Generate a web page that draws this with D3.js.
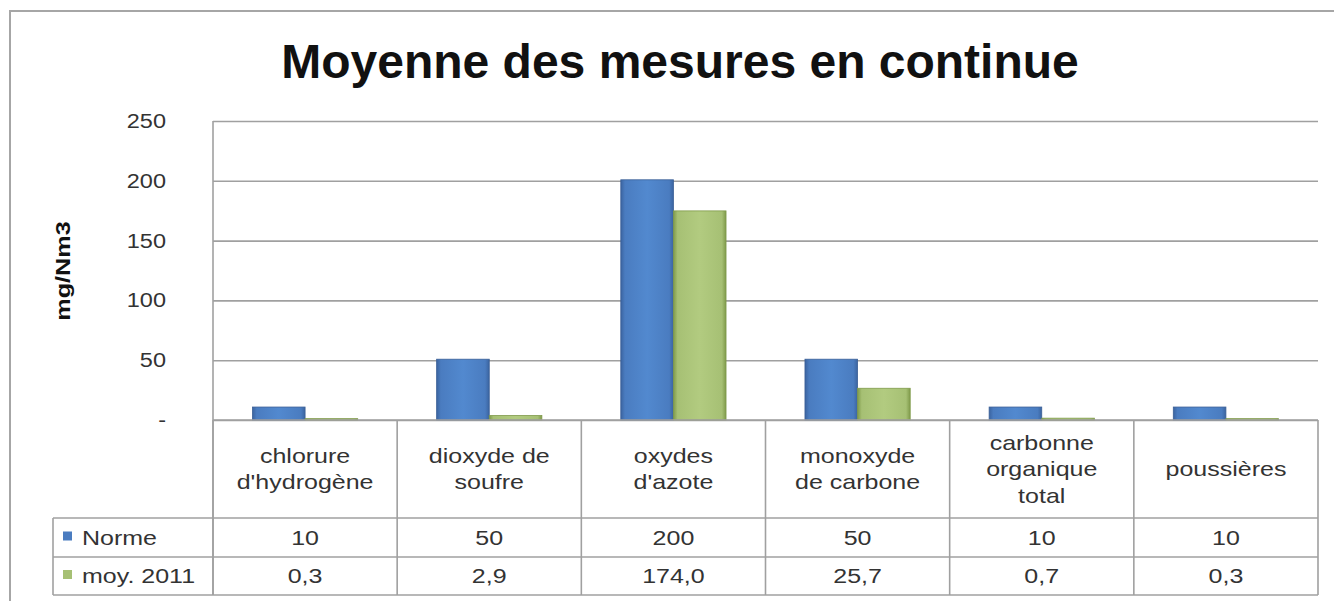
<!DOCTYPE html>
<html>
<head>
<meta charset="utf-8">
<script src="https://cdn.jsdelivr.net/npm/d3@7"></script>
<style>
  body { margin: 0; background: #fff; }
  svg { display: block; font-family: "Liberation Sans", Arial, sans-serif; }
</style>
</head>
<body>
<div id="chart"></div>
<script>
// data
const categories = [
  ["chlorure", "d'hydrogène"],
  ["dioxyde de", "soufre"],
  ["oxydes", "d'azote"],
  ["monoxyde", "de carbone"],
  ["carbonne", "organique", "total"],
  ["poussières"]
];
const seriesNames = ["Norme", "moy. 2011"];
const norme = [10, 50, 200, 50, 10, 10];
const moy2011 = [0.3, 2.9, 174.0, 25.7, 0.7, 0.3];
const normeLabels = ["10", "50", "200", "50", "10", "10"];
const moyLabels = ["0,3", "2,9", "174,0", "25,7", "0,7", "0,3"];
const yTicks = [0, 50, 100, 150, 200, 250];

const W = 1334, H = 601;
const plotL = 213, plotR = 1318, plotT = 121, plotB = 420;
const rowTop = 420, rowH1 = 518, rowH2 = 557, rowBot = 595;
const legendL = 53;
const fs = 20.5, sx = 1.22; // small text is drawn a bit wide in the original
const ink = "#333";

const svg = d3.select("#chart").append("svg")
  .attr("width", W).attr("height", H);

// text that is stretched horizontally around its anchor point
function wideText(parent, x, y, str, anchor, size, scale) {
  return parent.append("text")
    .attr("transform", `translate(${x},${y}) scale(${scale || sx},1)`)
    .attr("text-anchor", anchor || "middle")
    .attr("font-size", (size || fs) + "px").attr("fill", ink)
    .text(str);
}

const defs = svg.append("defs");
function barGrad(id, dark, mid, light) {
  const g = defs.append("linearGradient").attr("id", id)
    .attr("x1", "0").attr("x2", "1").attr("y1", "0").attr("y2", "0");
  g.append("stop").attr("offset", "0").attr("stop-color", dark);
  g.append("stop").attr("offset", "0.08").attr("stop-color", mid);
  g.append("stop").attr("offset", "0.5").attr("stop-color", light);
  g.append("stop").attr("offset", "0.92").attr("stop-color", mid);
  g.append("stop").attr("offset", "1").attr("stop-color", dark);
}
barGrad("gBlue", "#3b64a0", "#4a7cc0", "#5289cf");
barGrad("gGreen", "#7f9a4a", "#a6c074", "#b2cb80");
const colors = ["url(#gBlue)", "url(#gGreen)"];
const legendColors = ["#4a7cc0", "#a6c074"];

// outer frame
svg.append("path")
  .attr("d", `M10,${H} L10,11 L${W},11`)
  .attr("fill", "none").attr("stroke", "#a6a6a6").attr("stroke-width", 2);

// title
svg.append("text")
  .attr("x", 680).attr("y", 78)
  .attr("text-anchor", "middle")
  .attr("font-size", "48px").attr("font-weight", "bold")
  .attr("fill", "#111")
  .text("Moyenne des mesures en continue");

const x0 = d3.scaleBand().domain(d3.range(categories.length)).range([plotL, plotR]).padding(0);
const x1 = d3.scaleBand().domain(seriesNames).range([0, x0.bandwidth()]).paddingInner(0).paddingOuter(0.75);
const y = d3.scaleLinear().domain([0, 250]).range([plotB, plotT]);

// gridlines
const yAxis = d3.axisLeft(y).tickValues(yTicks)
  .tickSize(-(plotR - plotL)).tickFormat("");
const ya = svg.append("g").attr("transform", `translate(${plotL},0)`).call(yAxis);
ya.select(".domain").remove();
ya.selectAll(".tick line").attr("stroke", "#a0a0a0").attr("stroke-width", 1.6);
ya.selectAll(".tick text").remove();
// y labels (0 shown as "-")
yTicks.forEach(t => {
  wideText(svg, 166, y(t) + 7, t === 0 ? "-" : String(t), "end", 21, 1.12);
});

// left plot border
svg.append("line").attr("x1", plotL).attr("x2", plotL).attr("y1", plotT).attr("y2", plotB)
  .attr("stroke", "#a0a0a0").attr("stroke-width", 1.6);

// y axis title
svg.append("text")
  .attr("transform", "translate(70,271) rotate(-90) scale(1.2,1)")
  .attr("text-anchor", "middle")
  .attr("font-size", "21px").attr("font-weight", "bold").attr("fill", "#111")
  .text("mg/Nm3");

// bars
const seriesData = [norme, moy2011];
seriesData.forEach((vals, si) => {
  svg.append("g").selectAll("rect").data(vals).join("rect")
    .attr("x", (d, i) => x0(i) + x1(seriesNames[si]))
    .attr("width", x1.bandwidth())
    .attr("y", d => y(d) - 1)
    .attr("height", d => Math.max(plotB - y(d), 0) + 1)
    .attr("fill", colors[si])
    .attr("stroke", si === 0 ? "#3a5f96" : "#7f9a4a").attr("stroke-width", 0.8);
});

// data table
const tbl = svg.append("g").attr("stroke", "#a0a0a0").attr("stroke-width", 1.6).attr("fill", "none");
tbl.append("path").attr("d", `M${plotL},${rowTop} V${rowBot} M${plotR},${rowTop} V${rowBot}`);
x0.domain().forEach(i => {
  tbl.append("line").attr("x1", x0(i)).attr("x2", x0(i)).attr("y1", rowTop).attr("y2", rowBot);
});
tbl.append("line").attr("x1", plotL).attr("x2", plotR).attr("y1", rowTop).attr("y2", rowTop);
[rowH1, rowH2, rowBot].forEach(yy => {
  tbl.append("line").attr("x1", legendL).attr("x2", plotR).attr("y1", yy).attr("y2", yy);
});
tbl.append("line").attr("x1", legendL).attr("x2", legendL).attr("y1", rowH1).attr("y2", rowBot);

const labelCenter = (rowTop + rowH1) / 2;
const lh = 26.5;
categories.forEach((lines, i) => {
  const start = labelCenter - (lines.length - 1) * lh / 2 + 7;
  lines.forEach((ln, k) => {
    wideText(svg, x0(i) + x0.bandwidth() / 2, start + k * lh, ln);
  });
});

const rows = [[normeLabels, rowH1, rowH2], [moyLabels, rowH2, rowBot]];
rows.forEach(([labels, top, bot], si) => {
  const cy = (top + bot) / 2 + 7;
  labels.forEach((d, i) => wideText(svg, x0(i) + x0.bandwidth() / 2, cy, d));
  svg.append("rect").attr("x", 63).attr("y", cy - 13).attr("width", 9).attr("height", 9)
    .attr("fill", legendColors[si]);
  wideText(svg, 82, cy, seriesNames[si], "start");
});
</script>
</body>
</html>
